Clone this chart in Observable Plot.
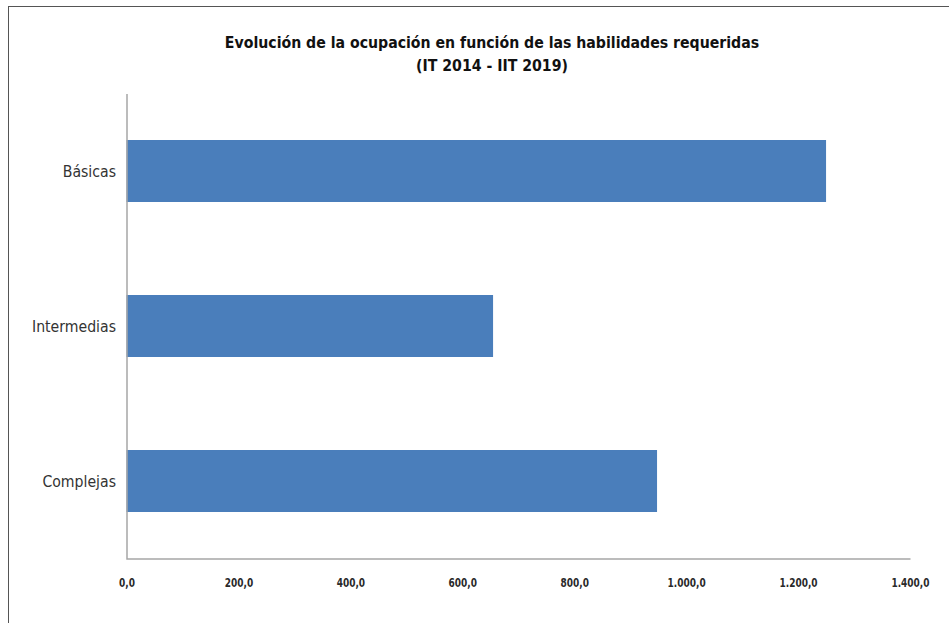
<!DOCTYPE html>
<html>
<head>
<meta charset="utf-8">
<script src="https://cdn.jsdelivr.net/npm/d3@7"></script>
<script src="https://cdn.jsdelivr.net/npm/@observablehq/plot@0.6"></script>
<style>
  html, body { margin: 0; padding: 0; background: #fff; }
  #page { position: relative; width: 949px; height: 623px; overflow: hidden; background: #fff; }
  #border { position: absolute; left: 8px; top: 6px; right: -10px; bottom: -10px;
            border-left: 1.5px solid #555; border-top: 1.5px solid #555; }
  #title { position: absolute; top: 31px; left: 35px; width: 914px; text-align: center;
           font-family: "DejaVu Sans Condensed", "DejaVu Sans", sans-serif;
           font-stretch: condensed; font-weight: bold; font-size: 16px; line-height: 23px; color: #111;
           transform: scaleX(0.98); transform-origin: 457px 0; }
  #chart { position: absolute; left: 0; top: 85px; }
</style>
</head>
<body>
<div id="page">
  <div id="border"></div>
  <div id="title">Evolución de la ocupación en función de las habilidades requeridas<br>(IT 2014 - IIT 2019)</div>
  <div id="chart"></div>
</div>
<script>
const categories = ["Básicas", "Intermedias", "Complejas"];
const values = [1250, 655, 948];
const xTicks = [0, 200, 400, 600, 800, 1000, 1200, 1400];

const data = categories.map((c, i) => ({category: c, value: values[i]}));
const locale = d3.formatLocale({decimal: ",", thousands: ".", grouping: [3], currency: ["", "€"]});
const fmt = locale.format(",.1f");

const W = 949, H = 538;
const mL = 126.5, mR = 39, mT = 8.5, mB = 64.5;
const FONT = "'DejaVu Sans Condensed', 'DejaVu Sans', sans-serif";

const plot = Plot.plot({
  width: W,
  height: H,
  marginLeft: mL,
  marginRight: mR,
  marginTop: mT,
  marginBottom: mB,
  style: {background: "transparent", overflow: "visible", fontStretch: "condensed"},
  x: {domain: [0, 1400], ticks: xTicks, tickFormat: fmt},
  y: {domain: categories, paddingInner: 0.6, paddingOuter: 0.3},
  marks: [
    Plot.barX(data, {x: "value", y: "category", fill: "#4a7ebb"}),
    Plot.frame({stroke: "#a6a6a6", strokeWidth: 1.5,
      strokeDasharray: `0 ${(W - mL - mR) + (H - mT - mB)} ${(W - mL - mR) + (H - mT - mB)}`}),
    Plot.axisX({ticks: xTicks, tickFormat: fmt, tickSize: 0, tickPadding: 19,
      fontSize: 12.5, fontWeight: "bold", fill: "#2a2a2a", fontFamily: FONT, label: null}),
    Plot.axisY({tickSize: 0, tickPadding: 11, fontSize: 16.5, fill: "#333",
      fontFamily: FONT, label: null})
  ]
});

// horizontal condensing of axis labels (style only)
const xLabels = new Set(xTicks.map(fmt));
const yLabels = new Set(categories);
plot.querySelectorAll("text").forEach(t => {
  const s = t.textContent;
  let sx = null;
  if (xLabels.has(s)) sx = 0.8;
  else if (yLabels.has(s)) sx = 0.95;
  if (sx == null) return;
  const tr = t.getAttribute("transform");
  if (tr) {
    t.setAttribute("transform", tr + ` scale(${sx},1)`);
  } else {
    const x = +(t.getAttribute("x") || 0);
    t.setAttribute("transform", `translate(${x},0) scale(${sx},1) translate(${-x},0)`);
  }
});

document.getElementById("chart").appendChild(plot);
</script>
</body>
</html>
